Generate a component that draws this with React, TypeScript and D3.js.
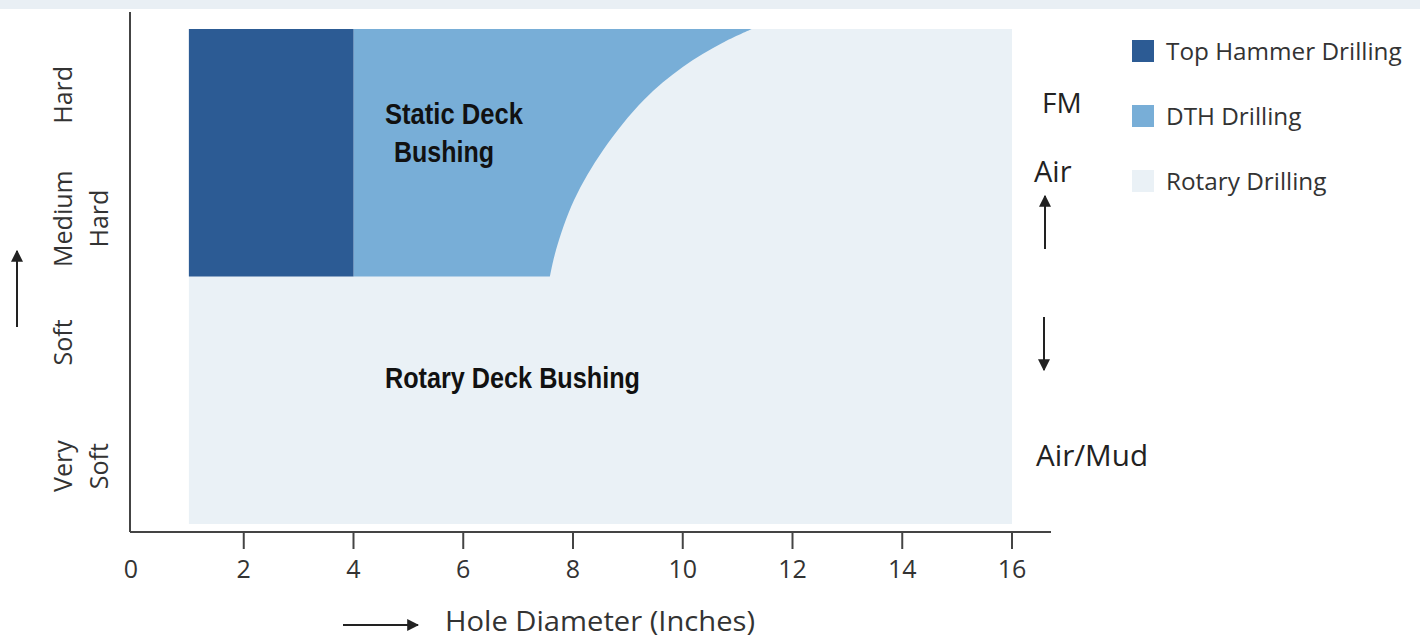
import React from "react";
import * as d3 from "d3";

// ---- data ----
const diameterTicks = [0, 2, 4, 6, 8, 10, 12, 14, 16];
const hardnessLabels: { value: number; lines: string[] }[] = [
  { value: 3.5, lines: ["Hard"] },
  { value: 2.5, lines: ["Medium", "Hard"] },
  { value: 1.5, lines: ["Soft"] },
  { value: 0.5, lines: ["Very", "Soft"] },
];
// region extents [diameter from, diameter to, hardness from, hardness to]
const rotaryRegion = [1, 16, 0, 4];
const topHammerRegion = [1, 4, 2, 4];
const dthStart = 4;
const dthBottom = 2;
const dthTop = 4;
// DTH boundary curve: [diameter, hardness]
const dthBoundary: [number, number][] = [
  [7.58, 2.0],
  [7.69, 2.214],
  [8.02, 2.618],
  [8.55, 3.022],
  [9.29, 3.426],
  [10.0, 3.693],
  [10.72, 3.887],
  [11.26, 4.0],
];
const legendItems = [
  { label: "Top Hammer Drilling", color: "#2c5b94" },
  { label: "DTH Drilling", color: "#78aed7" },
  { label: "Rotary Drilling", color: "#eaf1f6" },
];

const W = 1420;
const H = 640;
const FONT = "'Open Sans', 'Noto Sans', sans-serif";
const BOLD = "'Liberation Sans', Arial, sans-serif";

export default function App() {
  const x = d3.scaleLinear().domain([0, 16]).range([134, 1012]);
  const y = d3.scaleLinear().domain([0, 4]).range([524, 29]);

  const curve = d3
    .line<[number, number]>()
    .x((d) => x(d[0]))
    .y((d) => y(d[1]))
    .curve(d3.curveCatmullRom.alpha(0.5));
  const boundaryPath = curve(dthBoundary) as string;
  const dthPath =
    `M${x(dthStart)},${y(dthBottom)}L` +
    boundaryPath.slice(1) +
    `L${x(dthStart)},${y(dthTop)}Z`;

  const rect = (r: number[]) => ({
    x: x(r[0]),
    y: y(r[3]),
    width: x(r[1]) - x(r[0]),
    height: y(r[2]) - y(r[3]),
  });

  const axisColor = "#444";
  const textColor = "#333";

  return (
    <div style={{ position: "absolute", left: 0, top: 0 }}>
      <svg width={W} height={H} style={{ display: "block", background: "#fff" }}>
        <defs>
          <marker id="ah" viewBox="0 0 10 10" refX="9" refY="5" markerWidth="6" markerHeight="6" orient="auto">
            <path d="M0,0L10,5L0,10Z" fill="#222" />
          </marker>
        </defs>
        {/* top page strip */}
        <rect x={0} y={0} width={W} height={9} fill="#e9eff4" />

        {/* regions */}
        <rect {...rect(rotaryRegion)} fill={legendItems[2].color} />
        <path d={dthPath} fill={legendItems[1].color} />
        <rect {...rect(topHammerRegion)} fill={legendItems[0].color} />

        {/* axes */}
        <line x1={130} x2={130} y1={12} y2={532} stroke={axisColor} strokeWidth={2} />
        <line x1={130} x2={1051} y1={532} y2={532} stroke={axisColor} strokeWidth={2} />
        {diameterTicks.map((t) => (
          <g key={t}>
            {t > 0 && (
              <line x1={x(t)} x2={x(t)} y1={532} y2={549} stroke={axisColor} strokeWidth={2} />
            )}
            <text
              x={t === 0 ? x(t) - 3 : x(t)}
              y={578}
              textAnchor="middle"
              fontFamily={FONT}
              fontSize={25}
              fill={textColor}
            >
              {t}
            </text>
          </g>
        ))}

        {/* x axis title */}
        <line x1={343} x2={418} y1={625} y2={625} stroke="#222" strokeWidth={2} markerEnd="url(#ah)" />
        <text x={445} y={631} fontFamily={FONT} fontSize={27} fill={textColor} textLength={310} lengthAdjust="spacingAndGlyphs">
          Hole Diameter (Inches)
        </text>

        {/* y labels */}
        {hardnessLabels.map((h) =>
          h.lines.map((ln, i) => (
            <text
              key={h.value + ln + i}
              transform={`translate(${72 + i * 36},${y(h.value) + 4}) rotate(-90)`}
              textAnchor="middle"
              fontFamily={FONT}
              fontSize={25}
              fill={textColor}
            >
              {ln}
            </text>
          ))
        )}
        <line x1={17} x2={17} y1={327} y2={251} stroke="#222" strokeWidth={2} markerEnd="url(#ah)" />

        {/* region labels */}
        <text x={385} y={124} fontFamily={BOLD} fontWeight="bold" fontSize={29} fill="#111" textLength={138} lengthAdjust="spacingAndGlyphs">
          Static Deck
        </text>
        <text x={394} y={162} fontFamily={BOLD} fontWeight="bold" fontSize={29} fill="#111" textLength={100} lengthAdjust="spacingAndGlyphs">
          Bushing
        </text>
        <text x={385} y={388} fontFamily={BOLD} fontWeight="bold" fontSize={29} fill="#111" textLength={255} lengthAdjust="spacingAndGlyphs">
          Rotary Deck Bushing
        </text>

        {/* right annotations */}
        <text x={1042} y={113} fontFamily={FONT} fontSize={28} fill="#222">FM</text>
        <text x={1034} y={182} fontFamily={FONT} fontSize={29} fill="#222">Air</text>
        <line x1={1045} x2={1045} y1={249} y2={196} stroke="#222" strokeWidth={2} markerEnd="url(#ah)" />
        <line x1={1044} x2={1044} y1={317} y2={370} stroke="#222" strokeWidth={2} markerEnd="url(#ah)" />
        <text x={1036} y={466} fontFamily={FONT} fontSize={29} fill="#222" textLength={112} lengthAdjust="spacingAndGlyphs">Air/Mud</text>

        {/* legend */}
        {legendItems.map((it, i) => (
          <g key={it.label} transform={`translate(1132,${40 + i * 65})`}>
            <rect x={0} y={0} width={22} height={22} fill={it.color} />
            <text x={34} y={20} fontFamily={FONT} fontSize={24.3} fill={textColor}>
              {it.label}
            </text>
          </g>
        ))}
      </svg>
    </div>
  );
}
